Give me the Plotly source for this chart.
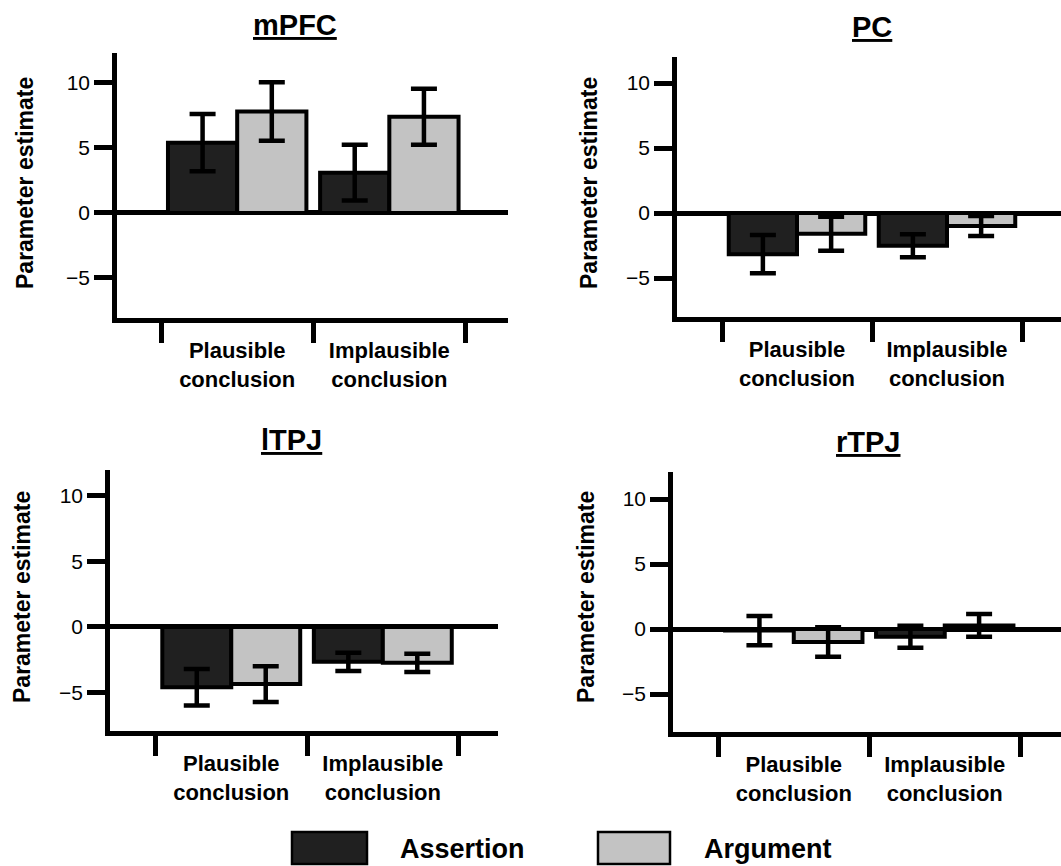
import plotly.graph_objects as go

# ---------------- data ----------------
categories = [0, 1]
category_labels = ["Plausible<br>conclusion", "Implausible<br>conclusion"]
series_names = ["Assertion", "Argument"]
regions = ["mPFC", "PC", "lTPJ", "rTPJ"]

mpfc_assertion = [5.4, 3.1]
mpfc_assertion_err = [2.2, 2.15]
mpfc_argument = [7.8, 7.4]
mpfc_argument_err = [2.25, 2.15]

pc_assertion = [-3.17, -2.52]
pc_assertion_err = [1.47, 0.88]
pc_argument = [-1.59, -1.0]
pc_argument_err = [1.31, 0.77]

ltpj_assertion = [-4.6, -2.66]
ltpj_assertion_err = [1.4, 0.7]
ltpj_argument = [-4.36, -2.74]
ltpj_argument_err = [1.36, 0.7]

rtpj_assertion = [-0.12, -0.59]
rtpj_assertion_err = [1.13, 0.85]
rtpj_argument = [-1.0, 0.28]
rtpj_argument_err = [1.13, 0.87]

y_tickvals = [-5, 0, 5, 10]
y_ticktext = ["\u22125", "0", "5", "10"]

# ---------------- style ----------------
W, H = 1061, 866
FONT = "Liberation Sans, Arial, Helvetica, sans-serif"
DARK = "#202020"
LIGHT = "#c3c3c3"
LW = 4.5

data = {
    "mPFC": (mpfc_assertion, mpfc_assertion_err, mpfc_argument, mpfc_argument_err),
    "PC": (pc_assertion, pc_assertion_err, pc_argument, pc_argument_err),
    "lTPJ": (ltpj_assertion, ltpj_assertion_err, ltpj_argument, ltpj_argument_err),
    "rTPJ": (rtpj_assertion, rtpj_assertion_err, rtpj_argument, rtpj_argument_err),
}

# panel geometry in pixels: left, right, top, bottom ; x-range ; y-range
panels = {
    "mPFC": dict(px=(117, 508), py=(53, 318), xr=[-0.79, 1.78], yr=[-8.08, 12.3]),
    "PC": dict(px=(677, 1061), py=(57, 317), xr=[-0.80, 1.76], yr=[-8.0, 12.0]),
    "lTPJ": dict(px=(110, 498), py=(470, 731), xr=[-0.80, 1.76], yr=[-7.94, 11.98]),
    "rTPJ": dict(px=(673, 1061), py=(472, 732), xr=[-0.80, 1.77], yr=[-7.92, 12.08]),
}
title_pos = {"mPFC": (295, 25), "PC": (872, 27), "lTPJ": (291, 440), "rTPJ": (868, 442)}
ytitle_pos = {"mPFC": (25, 183), "PC": (589, 183), "lTPJ": (22, 597), "rTPJ": (586, 597)}

fig = go.Figure()
layout = dict(
    width=W, height=H,
    margin=dict(l=0, r=0, t=0, b=0),
    paper_bgcolor="white", plot_bgcolor="white",
    showlegend=False,
    barmode="group", bargap=0.09, bargroupgap=0,
    font=dict(family=FONT, color="black"),
)

annotations = []
for i, reg in enumerate(regions):
    k = "" if i == 0 else str(i + 1)
    a, ae, g, ge = data[reg]
    for vals, errs, name, col in ((a, ae, series_names[0], DARK), (g, ge, series_names[1], LIGHT)):
        fig.add_trace(go.Bar(
            x=categories, y=vals, name=name,
            marker=dict(color=col, line=dict(color="black", width=4)),
            error_y=dict(type="data", array=errs, visible=True, color="black", thickness=4.5, width=13),
            xaxis="x" + k, yaxis="y" + k,
        ))
    p = panels[reg]
    L, R = p["px"]
    T, B = p["py"]
    layout["xaxis" + k] = dict(
        domain=[L / W, R / W], range=p["xr"], anchor="y" + k,
        tickmode="array", tickvals=categories, ticktext=category_labels,
        ticks="outside", ticklen=9, tickcolor="rgba(0,0,0,0)",
        tickfont=dict(family=FONT, size=22, color="black", weight="bold"),
        showline=True, linewidth=LW, linecolor="black",
        showgrid=False, zeroline=False, fixedrange=True,
        minor=dict(tickmode="array", tickvals=[-0.5, 0.5, 1.5], ticks="outside",
                   ticklen=20, tickwidth=LW, tickcolor="black", showgrid=False),
    )
    layout["yaxis" + k] = dict(
        domain=[1 - B / H, 1 - T / H], range=p["yr"], anchor="x" + k,
        tickmode="array", tickvals=y_tickvals, ticktext=y_ticktext,
        ticks="outside", ticklen=18, tickwidth=LW, tickcolor="black",
        tickfont=dict(family=FONT, size=21, color="black"),
        showline=True, linewidth=LW, linecolor="black",
        showgrid=False, zeroline=True, zerolinewidth=LW, zerolinecolor="black",
        fixedrange=True,
    )
    tx, ty = title_pos[reg]
    annotations.append(dict(
        text="<u><b>" + reg + "</b></u>", x=tx / W, y=1 - ty / H, xref="paper", yref="paper",
        showarrow=False, xanchor="center", yanchor="middle",
        font=dict(family=FONT, size=29, color="black"),
    ))
    yx, yy = ytitle_pos[reg]
    annotations.append(dict(
        text="<b>Parameter estimate</b>", x=yx / W, y=1 - yy / H, xref="paper", yref="paper",
        showarrow=False, xanchor="center", yanchor="middle", textangle=-90,
        font=dict(family=FONT, size=23, color="black"),
    ))

# legend drawn as boxes + labels
legend_boxes = [(292, 367, DARK), (598, 670, LIGHT)]
legend_text_x = [398, 702]
shapes = []
for (x0, x1, col), tx, name in zip(legend_boxes, legend_text_x, series_names):
    shapes.append(dict(type="rect", xref="paper", yref="paper",
                       x0=x0 / W, x1=x1 / W, y0=1 - 864 / H, y1=1 - 832 / H,
                       fillcolor=col, line=dict(color="black", width=2.5)))
    annotations.append(dict(
        text="<b>" + name + "</b>", x=tx / W, y=1 - 849 / H, xref="paper", yref="paper",
        showarrow=False, xanchor="left", yanchor="middle",
        font=dict(family=FONT, size=27, color="black"),
    ))

layout["annotations"] = annotations
layout["shapes"] = shapes
fig.update_layout(**layout)

fig.write_html("out.html", config={"displayModeBar": False},
               post_script="document.body.style.margin='0';")
